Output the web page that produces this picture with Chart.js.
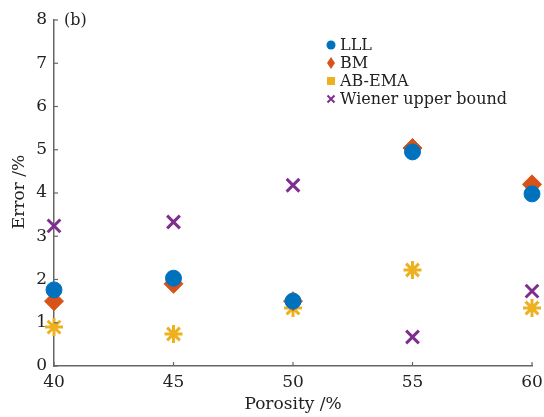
<!DOCTYPE html>
<html>
<head>
<meta charset="utf-8">
<script src="https://cdn.jsdelivr.net/npm/chart.js@4.4.0/dist/chart.umd.min.js"></script>
<style>
  html, body { margin: 0; padding: 0; background: #fff; }
  #wrap { width: 544px; height: 417px; }
</style>
</head>
<body>
<div id="wrap"><canvas id="grafico"></canvas></div>
<script>
// dados (b)
const porosidade = [40, 45, 50, 55, 60]
const erroLLL = [1.76, 2.03, 1.5, 4.95, 3.98]
const erroBM = [1.5, 1.9, 1.5, 5.04, 4.2]
const erroABEMA = [0.9, 0.74, 1.34, 2.22, 1.34]
const erroWiener = [3.24, 3.33, 4.18, 0.67, 1.73]
const ticksY = [0, 1, 2, 3, 4, 5, 6, 7, 8]

const fonte = '"DejaVu Serif", "Liberation Serif", serif'

function pontos(valores) {
    return porosidade.map((p, i) => ({ x: p, y: valores[i] }))
}

// ticks para dentro + legenda + textos
const extras = {
    id: 'extras',
    afterDraw(chart) {
        const c = chart.ctx
        const sx = chart.scales.x
        const sy = chart.scales.y
        const area = chart.chartArea
        c.save()
        c.strokeStyle = '#666'
        c.lineWidth = 1.2
        ticksY.forEach(v => {
            const py = sy.getPixelForValue(v)
            c.beginPath()
            c.moveTo(area.left, py)
            c.lineTo(area.left + 4, py)
            c.stroke()
        })
        porosidade.forEach(v => {
            const px = sx.getPixelForValue(v)
            c.beginPath()
            c.moveTo(px, area.bottom)
            c.lineTo(px, area.bottom - 4)
            c.stroke()
        })

        c.fillStyle = '#222'
        c.font = '16px ' + fonte
        c.textBaseline = 'middle'
        c.textAlign = 'left'
        c.fillText('(b)', 64, 21)

        // legenda
        const cores = ['#0072BD', '#D95319', '#EDB120', '#7E2F8E']
        chart.data.datasets.forEach((ds, i) => {
            const y = 45 + i * 18
            const x = 331
            c.fillStyle = cores[i]
            c.strokeStyle = cores[i]
            if (i === 0) {
                c.beginPath(); c.arc(x, y, 4.5, 0, Math.PI * 2); c.fill()
            } else if (i === 1) {
                c.beginPath(); c.moveTo(x, y - 6); c.lineTo(x + 4, y); c.lineTo(x, y + 6); c.lineTo(x - 4, y); c.closePath(); c.fill()
            } else if (i === 2) {
                c.fillRect(x - 4, y - 4, 8, 8)
            } else {
                c.lineWidth = 2
                c.beginPath(); c.moveTo(x - 3.5, y - 3.5); c.lineTo(x + 3.5, y + 3.5)
                c.moveTo(x + 3.5, y - 3.5); c.lineTo(x - 3.5, y + 3.5); c.stroke()
            }
            c.fillStyle = '#222'
            c.font = '16px ' + fonte
            c.fillText(ds.label, 340, y + 1)
        })

        // titulos dos eixos
        c.textAlign = 'center'
        c.font = '17px ' + fonte
        c.fillText('Porosity /%', (area.left + area.right) / 2, 405)
        c.translate(20, 192)
        c.rotate(-Math.PI / 2)
        c.fillText('Error /%', 0, 0)
        c.restore()
    }
}

const ctx = document.getElementById('grafico').getContext('2d')
const grafico = new Chart(ctx, {
    type: 'scatter',
    data: {
        datasets: [
            {
                label: 'LLL',
                data: pontos(erroLLL),
                pointStyle: 'circle',
                pointRadius: 8,
                backgroundColor: '#0072BD',
                borderColor: '#0072BD',
                clip: false
            },
            {
                label: 'BM',
                data: pontos(erroBM),
                pointStyle: 'rectRot',
                pointRadius: 9.5,
                backgroundColor: '#D95319',
                borderColor: '#D95319',
                clip: false
            },
            {
                label: 'AB-EMA',
                data: pontos(erroABEMA),
                pointStyle: 'star',
                pointRadius: 9,
                borderWidth: 3,
                backgroundColor: '#EDB120',
                borderColor: '#EDB120',
                clip: false
            },
            {
                label: 'Wiener upper bound',
                data: pontos(erroWiener),
                pointStyle: 'crossRot',
                pointRadius: 9,
                borderWidth: 3,
                backgroundColor: '#7E2F8E',
                borderColor: '#7E2F8E',
                clip: false
            }
        ]
    },
    options: {
        responsive: true,
        maintainAspectRatio: false,
        animation: false,
        layout: { padding: { top: 20, right: 8, left: 0, bottom: 0 } },
        plugins: {
            legend: { display: false },
            tooltip: { enabled: false }
        },
        scales: {
            x: {
                type: 'linear',
                min: 40,
                max: 60,
                afterBuildTicks: s => { s.ticks = porosidade.map(v => ({ value: v })) },
                afterFit: s => { s.height = 51; s.paddingRight = 0; s.paddingLeft = 0 },
                grid: { display: false, drawTicks: false },
                border: { display: true, color: '#666', width: 1.5 },
                ticks: { color: '#222', padding: 6, font: { family: fonte, size: 17 } }
            },
            y: {
                min: 0,
                max: 8,
                afterBuildTicks: s => { s.ticks = ticksY.map(v => ({ value: v })) },
                afterFit: s => { s.width = 54; s.paddingTop = 0; s.paddingBottom = 0 },
                grid: { display: false, drawTicks: false },
                border: { display: true, color: '#666', width: 1.5 },
                ticks: { color: '#222', padding: 7, font: { family: fonte, size: 17 } }
            }
        }
    },
    plugins: [extras]
})
</script>
</body>
</html>
